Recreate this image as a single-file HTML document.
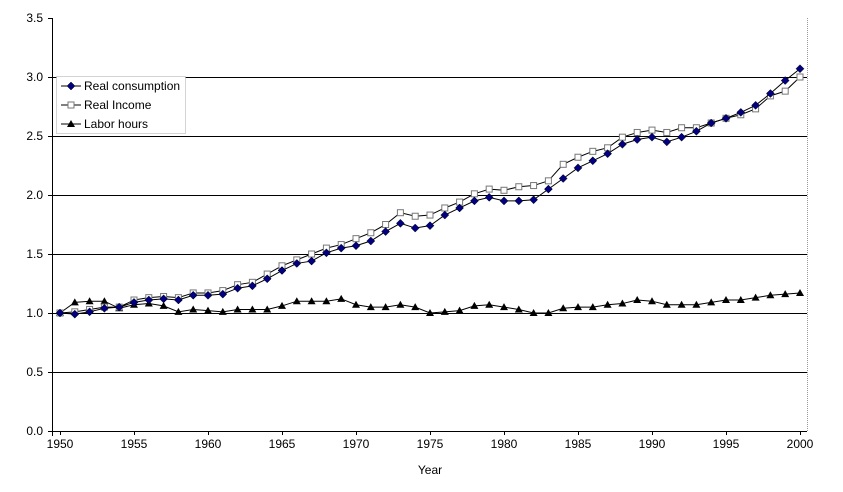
<!DOCTYPE html>
<html><head><meta charset="utf-8"><style>
body{margin:0;background:#fff;}
svg text{font-family:"Liberation Sans",Arial,sans-serif;font-size:12px;fill:#000;}
</style></head><body>
<svg id="chart" width="843" height="487" xmlns="http://www.w3.org/2000/svg">
<g id="grid" shape-rendering="crispEdges"></g>
<g id="axes"></g>
<g id="series"></g>
<g id="legend"></g>
</svg>
<script>
const years=[];for(let y=1950;y<=2000;y++)years.push(y);
const consumption=[1.00,0.99,1.01,1.04,1.05,1.09,1.11,1.12,1.11,1.15,1.15,1.16,1.21,1.23,1.29,1.36,1.42,1.44,1.51,1.55,1.57,1.61,1.69,1.76,1.72,1.74,1.83,1.89,1.95,1.98,1.95,1.95,1.96,2.05,2.14,2.23,2.29,2.35,2.43,2.47,2.49,2.45,2.49,2.54,2.61,2.65,2.70,2.76,2.86,2.97,3.07];
const income=[1.00,1.01,1.03,1.05,1.05,1.11,1.13,1.14,1.13,1.17,1.17,1.19,1.24,1.26,1.33,1.40,1.45,1.50,1.55,1.58,1.63,1.68,1.75,1.85,1.82,1.83,1.89,1.94,2.01,2.05,2.04,2.07,2.08,2.12,2.26,2.32,2.37,2.40,2.49,2.53,2.55,2.53,2.57,2.57,2.61,2.65,2.68,2.73,2.84,2.88,3.00];
const labor=[1.00,1.09,1.10,1.10,1.04,1.07,1.08,1.06,1.01,1.03,1.02,1.01,1.03,1.03,1.03,1.06,1.10,1.10,1.10,1.12,1.07,1.05,1.05,1.07,1.05,1.00,1.01,1.02,1.06,1.07,1.05,1.03,1.00,1.00,1.04,1.05,1.05,1.07,1.08,1.11,1.10,1.07,1.07,1.07,1.09,1.11,1.11,1.13,1.15,1.16,1.17];
const yTicks=[0,0.5,1,1.5,2,2.5,3,3.5];
const xTicks=[1950,1955,1960,1965,1970,1975,1980,1985,1990,1995,2000];
const NS="http://www.w3.org/2000/svg";
const X=v=>60+(v-1950)*(740/50);
const Y=v=>431-v*118;
function mk(t,a,p){const e=document.createElementNS(NS,t);for(const k in a)e.setAttribute(k,a[k]);p.appendChild(e);return e;}
const grid=document.getElementById('grid'),axes=document.getElementById('axes'),ser=document.getElementById('series'),leg=document.getElementById('legend');
yTicks.forEach(v=>{
 const yy=Math.round(Y(v))+0.5;
 if(v>0&&v<3.5){const g=mk('line',{x1:52,x2:807,y1:yy,y2:yy,stroke:'#000','stroke-width':1},grid);
 
 }
 mk('line',{x1:48,x2:52,y1:yy,y2:yy,stroke:'#000','shape-rendering':'crispEdges'},axes);
 const t=mk('text',{x:43,y:Y(v)+4,'text-anchor':'end'},axes);t.textContent=v.toFixed(1);
 
 
});
mk('line',{x1:52.5,x2:52.5,y1:Y(3.5),y2:Y(0)+5,stroke:'#000','shape-rendering':'crispEdges'},axes);
mk('line',{x1:52,x2:807,y1:Math.round(Y(0))+0.5,y2:Math.round(Y(0))+0.5,stroke:'#000','shape-rendering':'crispEdges'},axes);
mk('line',{x1:807.5,x2:807.5,y1:Y(3.5),y2:Y(0),stroke:'#999','stroke-dasharray':'1,1'},axes);
xTicks.forEach(v=>{
 mk('line',{x1:Math.round(X(v))+0.5,x2:Math.round(X(v))+0.5,y1:Y(0),y2:Y(0)+4,stroke:'#000','shape-rendering':'crispEdges'},axes);
 const t=mk('text',{x:X(v),y:Y(0)+17,'text-anchor':'middle'},axes);t.textContent=v;
 
 
});
const xt=mk('text',{x:430,y:474,'text-anchor':'middle'},axes);xt.textContent='Year';


function marker(type,x,y,p){
 if(type==='d')return mk('path',{d:`M${x} ${y-4}L${x+4} ${y}L${x} ${y+4}L${x-4} ${y}Z`,fill:'#000080',stroke:'#000','stroke-width':0.5},p);
 if(type==='s')return mk('rect',{x:x-3,y:y-3,width:6,height:6,fill:'#fff',stroke:'#777'},p);
 return mk('path',{d:`M${x} ${y-4}L${x+4} ${y+3}L${x-4} ${y+3}Z`,fill:'#000'},p);
}
const S=[[labor,'t','labor-hours'],[income,'s','real-income'],[consumption,'d','real-consumption']];
S.forEach(([d,m,n])=>{
 const g=mk('g',{},ser);
 
 
 mk('polyline',{points:d.map((v,i)=>X(years[i])+','+Y(v)).join(' '),fill:'none',stroke:'#000','stroke-width':1},g);
 d.forEach((v,i)=>{const e=marker(m,X(years[i]),Y(v),g);
  
  });
});
mk('rect',{x:56.5,y:76.5,width:129,height:57,fill:'#fff',stroke:'#aaa','stroke-dasharray':'1,1'},leg);
[['Real consumption','d',86],['Real Income','s',105],['Labor hours','t',124]].forEach(([l,m,y])=>{
 const g=mk('g',{},leg);
 
 
 mk('line',{x1:61,x2:81,y1:y,y2:y,stroke:'#000'},g);
 marker(m,71,y,g);
 const t=mk('text',{x:84,y:y+4},g);t.textContent=l;
});
</script>
</body></html>
